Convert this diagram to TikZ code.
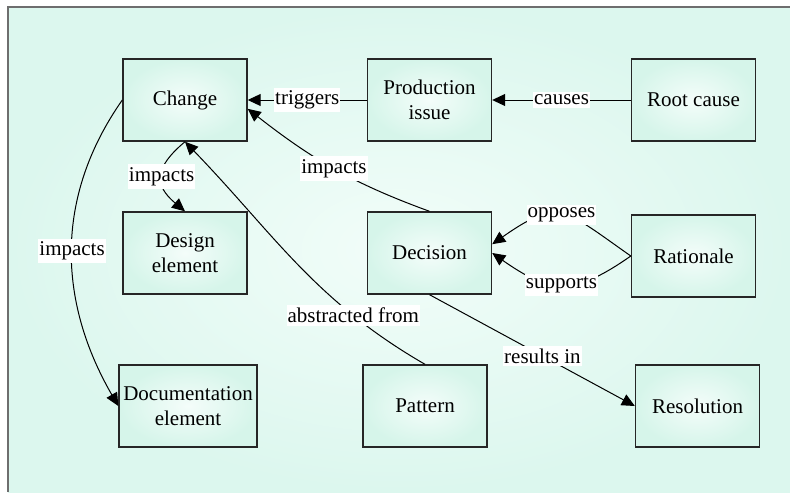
\documentclass[tikz,border=0pt]{standalone}
\usepackage{fontspec}
\setmainfont{Liberation Serif}
\usetikzlibrary{arrows.meta,positioning,calc}
\definecolor{bgmint}{RGB}{220,247,238}
\definecolor{bglight}{RGB}{242,253,249}
\definecolor{boxmint}{RGB}{214,245,234}
\definecolor{boxlight}{RGB}{244,253,250}
\definecolor{framegray}{RGB}{110,110,110}

\begin{document}
\begin{tikzpicture}[x=0.5pt, y=-0.5pt, >={Triangle[length=6.5pt,width=6pt]}, line width=0.5pt, font=\fontsize{10.5}{12.5}\selectfont]
	\tikzstyle{box}=[draw=black!85, line width=0.7pt, inner color=boxlight, outer color=boxmint, minimum width=62pt, minimum height=41pt, align=center, inner sep=0pt]
	\tikzstyle{lbl}=[fill=white, inner xsep=0.5pt, inner ysep=1.5pt]

	\useasboundingbox (0,0) rectangle (790,492);
	\shade [inner color=bglight, outer color=bgmint] (8,7) rectangle (790,492);
	\draw [framegray, line width=0.75pt] (8,492) |- (790,7);

	\node [box] (change) at (185,100) {Change};
	\node [box] (prod) at ($(change)+(244.5,0)$) {Production\\issue};
	\node [box] (root) at ($(prod)+(264,0)$) {Root cause};

	\node [box] (design) at ($(change)+(0,153)$) {Design\\element};
	\node [box] (decision) at ($(prod)+(0,153)$) {Decision};
	\node [box] (rationale) at ($(root)+(0,156)$) {Rationale};

	\node [box, minimum width=69pt] (doc) at ($(design)+(3,153)$) {Documentation\\element};
	\node [box] (pattern) at ($(decision)+(-4.5,153)$) {Pattern};
	\node [box] (resolution) at ($(rationale)+(4,150)$) {Resolution};

	\draw [->] (prod) to node [lbl] {triggers} (change); \draw [->] (root) to node [lbl] {causes} (prod);
	\draw [->] (change.south) to [out=220,in=140,looseness=1.5] node [lbl] {impacts} (design.north);
	\draw [->] (change.west) to [out=235,in=120] node [lbl] {impacts} (doc.west);
	\draw [->] (decision.north) to [out=160,in=-38] node [lbl] {impacts} (change.-8);
	\draw [->] (pattern.north) to [out=150,in=-46] node [lbl, pos=0.25] {abstracted from} (change.south);
	\draw [->] (rationale.west) to [out=145,in=35,looseness=1.5] node [lbl] {opposes} (decision.8);
	\draw [->] (rationale.west) to [out=215,in=-35,looseness=1.3] node [lbl] {supports} (decision.east);
	\draw [->] (decision.south) to node [lbl, pos=0.55] {results in} (resolution.west);
\end{tikzpicture}
\end{document}
